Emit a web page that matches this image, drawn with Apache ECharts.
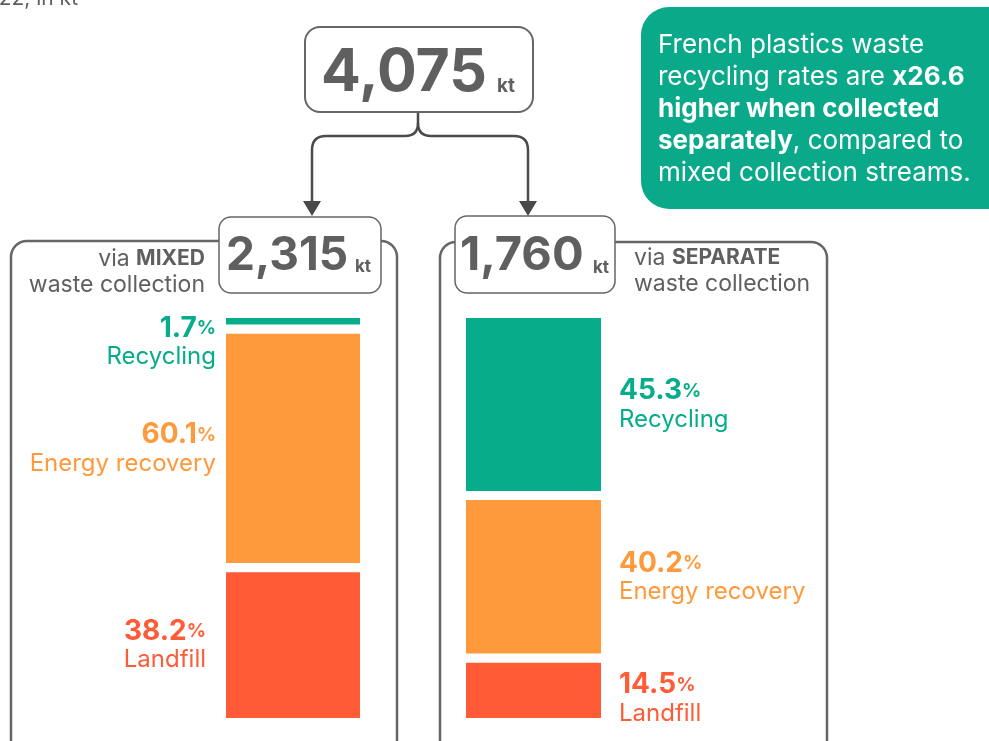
<!DOCTYPE html>
<html>
<head>
<meta charset="utf-8">
<script src="https://cdn.jsdelivr.net/npm/echarts@6/dist/echarts.min.js"></script>
<style>
  html, body { margin: 0; padding: 0; background: #fff; }
  #main { width: 989px; height: 741px; }
</style>
</head>
<body>
<div id="main"></div>
<script>
// Plastics waste by collection stream, France 2022

const streams = ['Recycling', 'Energy recovery', 'Landfill'];
const mixedPct = [1.7, 60.1, 38.2];
const separatePct = [45.3, 40.2, 14.5];
const totals = ['4,075', '2,315', '1,760'];
const colors = ['#07AC8A', '#FF9A3C', '#FF5B36'];

const font = 'Inter';
const gap = 2.4; // white space between the blocks, in % units

let myChart = echarts.init(document.getElementById('main'));

// per-bar label tweaks so the small blocks keep their text readable
const mixedOffsets = [[0, 21], [0, 0], [-10, 0]];
const sepOffsets = [[0, 0], [0, 0], [0, 8]];

function buildSeries(pcts, idx, side, offsets) {
    let list = [];
    pcts.forEach((v, i) => {
        list.push({
            type: 'bar',
            xAxisIndex: idx,
            yAxisIndex: idx,
            stack: 's' + idx,
            barWidth: '100%',
            data: [v],
            itemStyle: { color: colors[i] },
            label: {
                show: true,
                position: side,
                distance: side === 'left' ? 10 : 18,
                offset: offsets[i],
                align: side === 'left' ? 'right' : 'left',
                color: colors[i],
                fontFamily: font,
                formatter: '{p|' + v.toFixed(1) + '}{s|%}\n{n|' + streams[i] + '}',
                rich: {
                    p: { fontSize: 28, fontWeight: 'bold', lineHeight: 30, color: colors[i], fontFamily: font },
                    s: { fontSize: 19, fontWeight: 'bold', lineHeight: 30, color: colors[i], fontFamily: font },
                    n: { fontSize: 24, lineHeight: 27, color: colors[i], fontFamily: font }
                }
            }
        });
        if (i < pcts.length - 1) {
            list.push({
                type: 'bar',
                xAxisIndex: idx,
                yAxisIndex: idx,
                stack: 's' + idx,
                barWidth: '100%',
                data: [gap],
                itemStyle: { color: 'transparent' },
                silent: true
            });
        }
    });
    return list;
}

const gray = '#5f5f5f';
const line = '#666666';
const dark = '#4a4a4a';

function seg(x1, y1, x2, y2) {
    return { type: 'line', shape: { x1: x1, y1: y1, x2: x2, y2: y2 }, style: { stroke: dark, lineWidth: 2.5 } };
}
function corner(x1, y1, cx, cy, x2, y2) {
    return { type: 'bezierCurve', shape: { x1: x1, y1: y1, cpx1: cx, cpy1: cy, x2: x2, y2: y2 }, style: { fill: 'none', stroke: dark, lineWidth: 2.5 } };
}

const titleRich = {
    r: { fontSize: 23, lineHeight: 26, fill: gray, fontFamily: font },
    b: { fontSize: 21, fontWeight: 'bold', lineHeight: 26, fill: gray, fontFamily: font }
};

let option = {
    animation: false,
    grid: [
        { left: 226, width: 134, top: 318, height: 400 },
        { left: 466, width: 135, top: 318, height: 400 }
    ],
    xAxis: [
        { type: 'category', gridIndex: 0, data: ['mixed'], show: false },
        { type: 'category', gridIndex: 1, data: ['separate'], show: false }
    ],
    yAxis: [
        { type: 'value', gridIndex: 0, inverse: true, min: 0, max: 100 + 2 * gap, show: false },
        { type: 'value', gridIndex: 1, inverse: true, min: 0, max: 100 + 2 * gap, show: false }
    ],
    graphic: [
        // clipped subtitle in the corner
        { type: 'text', x: 78, y: -1, style: { text: 'Plastics waste collected in France in 2022, in kt', align: 'right', verticalAlign: 'middle', fontSize: 21, fill: gray, fontFamily: font } },

        // panels
        { type: 'rect', shape: { x: 11, y: 241, width: 386, height: 530, r: 16 }, style: { fill: 'none', stroke: line, lineWidth: 2.5 } },
        { type: 'rect', shape: { x: 440, y: 242, width: 387, height: 530, r: 16 }, style: { fill: 'none', stroke: line, lineWidth: 2.5 } },

        // brace + arrows
        seg(418, 112, 418, 123),
        corner(418, 123, 418, 136, 405, 136),
        seg(405, 136, 326, 136),
        corner(326, 136, 312, 136, 312, 150),
        seg(312, 150, 312, 204),
        corner(418, 123, 418, 136, 431, 136),
        seg(431, 136, 514, 136),
        corner(514, 136, 528, 136, 528, 150),
        seg(528, 150, 528, 204),
        { type: 'polygon', shape: { points: [[303, 201], [321, 201], [312, 216]] }, style: { fill: dark } },
        { type: 'polygon', shape: { points: [[519, 201], [537, 201], [528, 216]] }, style: { fill: dark } },

        // total boxes
        { type: 'rect', shape: { x: 305, y: 27, width: 228, height: 85, r: 15 }, style: { fill: '#fff', stroke: line, lineWidth: 2 } },
        { type: 'text', x: 321, y: 73, style: { text: totals[0], verticalAlign: 'middle', fontSize: 59, fontWeight: 'bold', fill: gray, fontFamily: font } },
        { type: 'text', x: 497, y: 86, style: { text: 'kt', verticalAlign: 'middle', fontSize: 19, fontWeight: 'bold', fill: gray, fontFamily: font } },

        { type: 'rect', shape: { x: 219, y: 217, width: 162, height: 76, r: 12 }, style: { fill: '#fff', stroke: line, lineWidth: 1.5 } },
        { type: 'text', x: 226, y: 256, style: { text: totals[1], verticalAlign: 'middle', fontSize: 46, fontWeight: 'bold', fill: gray, fontFamily: font } },
        { type: 'text', x: 355, y: 267, style: { text: 'kt', verticalAlign: 'middle', fontSize: 17, fontWeight: 'bold', fill: gray, fontFamily: font } },

        { type: 'rect', shape: { x: 455, y: 216, width: 160, height: 77, r: 12 }, style: { fill: '#fff', stroke: line, lineWidth: 1.5 } },
        { type: 'text', x: 460, y: 256, style: { text: totals[2], verticalAlign: 'middle', fontSize: 47, fontWeight: 'bold', fill: gray, fontFamily: font } },
        { type: 'text', x: 593, y: 268, style: { text: 'kt', verticalAlign: 'middle', fontSize: 17, fontWeight: 'bold', fill: gray, fontFamily: font } },

        // stream titles
        { type: 'text', x: 205, y: 272, style: { text: '{r|via }{b|MIXED}\n{r|waste collection}', align: 'right', verticalAlign: 'middle', fill: gray, fontFamily: font, rich: titleRich } },
        { type: 'text', x: 634, y: 271, style: { text: '{r|via }{b|SEPARATE}\n{r|waste collection}', align: 'left', verticalAlign: 'middle', fill: gray, fontFamily: font, rich: titleRich } },

        // callout
        { type: 'rect', shape: { x: 641, y: 7, width: 380, height: 202, r: 28 }, style: { fill: '#0AA98A' } },
        { type: 'text', x: 658, y: 109, style: {
            text: 'French plastics waste\nrecycling rates are {b|x26.6}\n{b|higher when collected}\n{b|separately}, compared to\nmixed collection streams.',
            verticalAlign: 'middle', fontSize: 26, lineHeight: 32, fill: '#fff', fontFamily: font,
            rich: { b: { fontSize: 26, lineHeight: 32, fontWeight: 'bold', fill: '#fff', fontFamily: font } } } }
    ],
    series: buildSeries(mixedPct, 0, 'left', mixedOffsets).concat(buildSeries(separatePct, 1, 'right', sepOffsets))
};

myChart.setOption(option);
</script>
</body>
</html>
